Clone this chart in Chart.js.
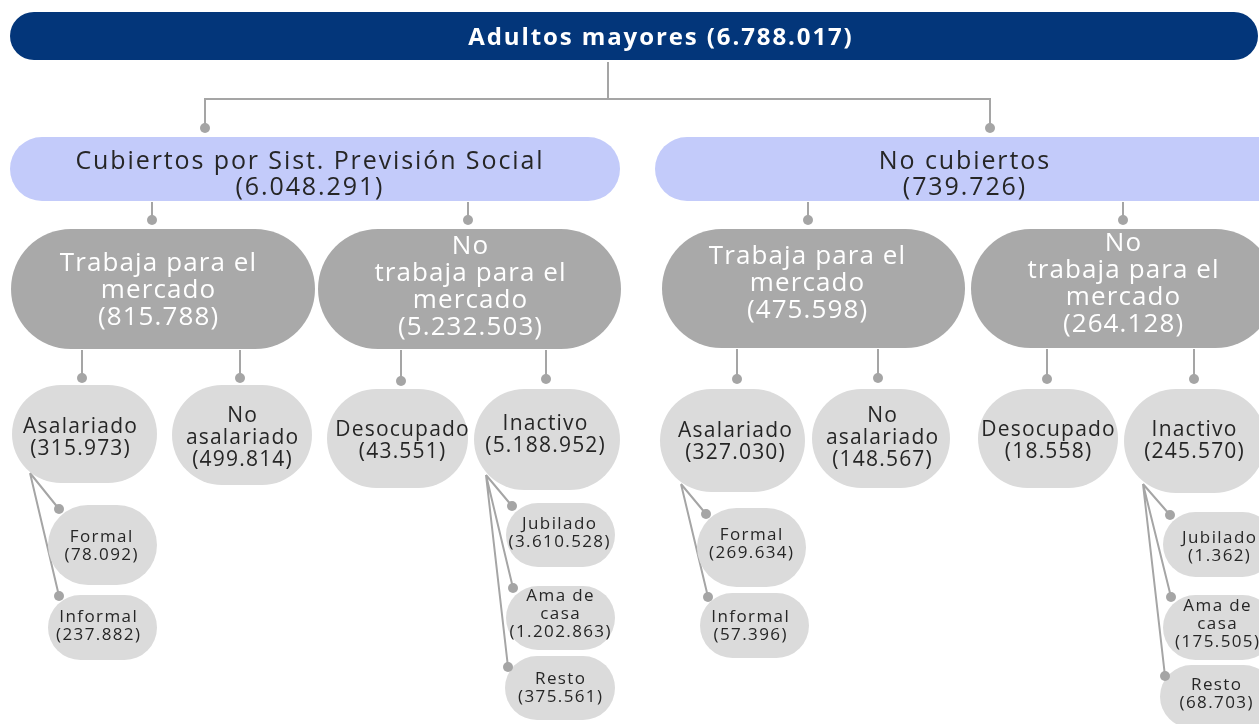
<!DOCTYPE html>
<html>
<head>
<meta charset="utf-8">
<script src="https://cdn.jsdelivr.net/npm/chart.js"></script>
<style>
  html, body { margin: 0; padding: 0; background: #fff; }
  #wrap { width: 1259px; height: 724px; }
</style>
</head>
<body>
<div id="wrap"><canvas id="chart"></canvas></div>
<script>
// nodes of the tree (names, counts, parent index)
const nodeNames = [
  'Adultos mayores',
  'Cubiertos por Sist. Previsión Social', 'No cubiertos',
  'Trabaja para el\nmercado', 'No\ntrabaja para el\nmercado',
  'Trabaja para el\nmercado', 'No\ntrabaja para el\nmercado',
  'Asalariado', 'No\nasalariado', 'Desocupado', 'Inactivo',
  'Asalariado', 'No\nasalariado', 'Desocupado', 'Inactivo',
  'Formal', 'Informal', 'Jubilado', 'Ama de\ncasa', 'Resto',
  'Formal', 'Informal', 'Jubilado', 'Ama de\ncasa', 'Resto'
];
const nodeValues = [
  6788017,
  6048291, 739726,
  815788, 5232503, 475598, 264128,
  315973, 499814, 43551, 5188952, 327030, 148567, 18558, 245570,
  78092, 237882, 3610528, 1202863, 375561, 269634, 57396, 1362, 175505, 68703
];
const nodeParents = [
  -1,
  0, 0,
  1, 1, 2, 2,
  3, 3, 4, 4, 5, 5, 6, 6,
  7, 7, 10, 10, 10, 11, 11, 14, 14, 14
];

// layout, in chart units (x 0..1259, y 0..724)
const nodeBoxes = [
  [10, 12, 1258, 60],
  [10, 137, 620, 201], [655, 137, 1290, 201],
  [11, 229, 315, 349], [318, 229, 621, 349], [662, 229, 965, 348], [971, 229, 1275, 348],
  [12, 385, 157, 483], [172, 385, 312, 485], [327, 389, 468, 488], [474, 389, 620, 490],
  [660, 389, 805, 492], [812, 389, 950, 488], [978, 389, 1118, 488], [1124, 389, 1266, 493],
  [48, 505, 157, 585], [48, 595, 157, 660], [506, 503, 615, 567], [506, 586, 615, 650], [505, 656, 615, 720],
  [697, 508, 806, 587], [700, 593, 809, 658], [1163, 512, 1275, 577], [1163, 595, 1275, 660], [1160, 665, 1275, 728]
];
const textCenters = [
  [660, 38],
  [309, 175], [964, 175],
  [158, 291], [470, 287], [807, 284], [1123, 284],
  [80, 438], [242, 438], [402, 441], [545, 435],
  [735, 442], [882, 438], [1048, 441], [1194, 441],
  [101, 546], [98, 626], [559, 533], [560, 614], [560, 688],
  [751, 544], [750, 626], [1219, 547], [1217, 624], [1216, 694]
];
const linkDots = [
  null,
  [205, 128], [990, 128],
  [152, 220], [468, 220], [808, 220], [1123, 220],
  [82, 378], [240, 378], [401, 381], [546, 379],
  [737, 379], [878, 378], [1047, 379], [1194, 379],
  [59, 509], [59, 596], [512, 506], [513, 588], [508, 667],
  [706, 514], [708, 597], [1170, 515], [1171, 597], [1165, 676]
];
const fanOrigins = { 7: [30, 473], 10: [486, 475], 11: [681, 484], 14: [1143, 484] };
const trunkX = 608, busY = 99;

const levelStyles = [
  { fill: '#03367A', color: '#ffffff', font: 'bold 24px "Open Sans"', ls: 1.9, lh: 0 },
  { fill: '#C3CBFA', color: '#262626', font: '25px "Open Sans"', ls: 1.9, lh: 26 },
  { fill: '#A9A9A9', color: '#ffffff', font: '26px "Open Sans"', ls: 1.1, lh: 27 },
  { fill: '#DBDBDB', color: '#262626', font: '21px "Open Sans"', ls: 1.2, lh: 22 },
  { fill: '#DBDBDB', color: '#262626', font: '17px "Open Sans"', ls: 1.4, lh: 18 }
];
const lineColor = '#A5A5A5';

const fmt = v => String(v).replace(/\B(?=(\d{3})+(?!\d))/g, '.');
const levelOf = i => (nodeParents[i] < 0 ? 0 : levelOf(nodeParents[i]) + 1);

function roundBox(ctx, x0, y0, x1, y1) {
  const r = Math.min(x1 - x0, y1 - y0) / 2;
  ctx.beginPath();
  ctx.moveTo(x0 + r, y0);
  ctx.lineTo(x1 - r, y0);
  ctx.arc(x1 - r, y0 + r, r, -Math.PI / 2, 0);
  ctx.lineTo(x1, y1 - r);
  ctx.arc(x1 - r, y1 - r, r, 0, Math.PI / 2);
  ctx.lineTo(x0 + r, y1);
  ctx.arc(x0 + r, y1 - r, r, Math.PI / 2, Math.PI);
  ctx.lineTo(x0, y0 + r);
  ctx.arc(x0 + r, y0 + r, r, Math.PI, Math.PI * 1.5);
  ctx.closePath();
}

const treePlugin = {
  id: 'tree',
  beforeDatasetsDraw(chart) {
    const { ctx, scales: { x, y } } = chart;
    const px = v => x.getPixelForValue(v);
    const py = v => y.getPixelForValue(v);
    ctx.save();

    // connectors
    ctx.strokeStyle = lineColor;
    ctx.lineWidth = 2;
    ctx.beginPath();
    ctx.moveTo(px(trunkX), py(nodeBoxes[0][3] + 2));
    ctx.lineTo(px(trunkX), py(busY));
    nodeParents.forEach((p, i) => {
      if (p < 0) return;
      const d = linkDots[i];
      if (p === 0) {
        ctx.moveTo(px(d[0]), py(busY));
        ctx.lineTo(px(d[0]), py(d[1]));
      } else if (fanOrigins[p]) {
        const o = fanOrigins[p];
        ctx.moveTo(px(o[0]), py(o[1]));
        ctx.lineTo(px(d[0]), py(d[1]));
      } else {
        ctx.moveTo(px(d[0]), py(nodeBoxes[p][3] + 1));
        ctx.lineTo(px(d[0]), py(d[1]));
      }
    });
    const b0 = linkDots.filter((d, i) => nodeParents[i] === 0).map(d => d[0]);
    ctx.moveTo(px(Math.min(...b0)) - 1, py(busY));
    ctx.lineTo(px(Math.max(...b0)) + 1, py(busY));
    ctx.stroke();

    // boxes and labels
    nodeNames.forEach((name, i) => {
      const lvl = levelOf(i);
      const st = levelStyles[lvl];
      const b = nodeBoxes[i];
      roundBox(ctx, px(b[0]), py(b[1]), px(b[2]), py(b[3]));
      ctx.fillStyle = st.fill;
      ctx.fill();

      const lines = lvl === 0
        ? [name + ' (' + fmt(nodeValues[i]) + ')']
        : name.split('\n').concat('(' + fmt(nodeValues[i]) + ')');
      ctx.font = st.font;
      ctx.fillStyle = st.color;
      ctx.textAlign = 'center';
      ctx.textBaseline = 'middle';
      if ('letterSpacing' in ctx) ctx.letterSpacing = st.ls + 'px';
      const c = textCenters[i];
      lines.forEach((t, k) => {
        const ty = c[1] + (k - (lines.length - 1) / 2) * st.lh;
        ctx.fillText(t, px(c[0]) + st.ls / 2, py(ty));
      });
    });
    ctx.restore();
  }
};

new Chart(document.getElementById('chart'), {
  type: 'scatter',
  data: {
    datasets: [{
      label: 'conectores',
      data: linkDots.filter(d => d).map(d => ({ x: d[0], y: d[1] })),
      pointRadius: 5,
      pointHoverRadius: 5,
      pointBackgroundColor: lineColor,
      pointBorderWidth: 0
    }]
  },
  options: {
    responsive: true,
    maintainAspectRatio: false,
    animation: false,
    layout: { padding: 0, autoPadding: false },
    plugins: { legend: { display: false }, tooltip: { enabled: false } },
    events: [],
    scales: {
      x: { type: 'linear', min: 0, max: 1259, display: false },
      y: { type: 'linear', min: 0, max: 724, reverse: true, display: false }
    }
  },
  plugins: [treePlugin]
});
</script>
</body>
</html>
